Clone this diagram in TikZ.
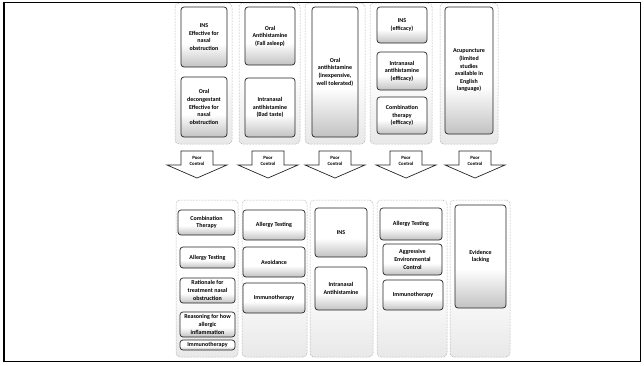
\documentclass[tikz,border=0pt]{standalone}
\usepackage{fontspec}
\setmainfont{Carlito}

% fade from light grey at the bottom of a box to white in its upper part
\pgfdeclareverticalshading{boxfade}{100bp}{color(0bp)=(black!24); color(25bp)=(black!24); color(44bp)=(white); color(100bp)=(white)}
\pgfdeclareverticalshading{panelfade}{100bp}{color(0bp)=(black!9); color(25bp)=(black!9); color(50bp)=(white); color(100bp)=(white)}

\tikzset{
  panel/.style={draw=black!45, densely dotted, line width=0.5pt, rounded corners=4pt,
                shade, shading=panelfade, inner sep=0pt},
  card/.style={draw=black!85, line width=0.7pt, rounded corners=3pt, shade, shading=boxfade,
               align=center, font=\bfseries\fontsize{6}{7.6}\selectfont, inner sep=0.5pt},
  arrowbody/.style={draw=black!85, line width=0.7pt, fill=white, line join=miter},
  arrowtext/.style={align=center, font=\bfseries\fontsize{4.8}{6}\selectfont, inner sep=0pt},
  frame/.style={draw=black, line width=1.8pt}
}

\begin{document}
\begin{tikzpicture}[x=1pt, y=-1pt]
\useasboundingbox (0,0) rectangle (644,365);
\draw[frame] (4,2.5) rectangle (640.5,361.5);

% column panels, upper row
\node[panel, minimum width=57, minimum height=141] (p1) at (203.5,73.5) {};
\node[panel, minimum width=61, minimum height=141] (p2) at (269.5,73.5) {};
\node[panel, minimum width=60, minimum height=141] (p3) at (335,73.5) {};
\node[panel, minimum width=62, minimum height=141] (p4) at (401,73.5) {};
\node[panel, minimum width=58, minimum height=141] (p5) at (469,73.5) {};

% column panels, lower row
\node[panel, minimum width=62, minimum height=157] (q1) at (207,278.5) {};
\node[panel, minimum width=65, minimum height=157] (q2) at (274.5,278.5) {};
\node[panel, minimum width=63, minimum height=157] (q3) at (341.5,278.5) {};
\node[panel, minimum width=70, minimum height=157] (q4) at (412,278.5) {};
\node[panel, minimum width=60, minimum height=157] (q5) at (480,278.5) {};

% first-line choices
\node[card, minimum width=46, minimum height=60] (a1) at (204,37) {INS\\Effective for\\nasal\\obstruction};
\node[card, minimum width=46, minimum height=60] (a2) at (204,107) {Oral\\decongestant\\Effective for\\nasal\\obstruction};
\node[card, minimum width=50, minimum height=58] (b1) at (270,36) {Oral\\Antihistamine\\(Fall asleep)};
\node[card, minimum width=50, minimum height=59] (b2) at (270,107.5) {Intranasal\\antihistamine\\(Bad taste)};
\node[card, minimum width=46, minimum height=130] (c1) at (335,72) {Oral\\antihistamine\\(inexpensive,\\well tolerated)};
\node[card, minimum width=50, minimum height=36] (d1) at (402,25) {INS\\(efficacy)};
\node[card, minimum width=50, minimum height=38] (d2) at (402,71) {Intranasal\\antihistamine\\(efficacy)};
\node[card, minimum width=50, minimum height=37] (d3) at (402,115.5) {Combination\\therapy\\(efficacy)};
\node[card, minimum width=48, minimum height=127] (e1) at (469,70.5) {Acupuncture\\(limited\\studies\\available in\\English\\language)};

% "Poor Control" block arrows
\foreach \i/\cx in {1/197, 2/268, 3/335, 4/406, 5/475}{
  \draw[arrowbody] (\cx-16,151) -- (\cx+16,151) -- (\cx+16,165) -- (\cx+30,165)
        -- (\cx,178) -- (\cx-30,165) -- (\cx-16,165) -- cycle;
  \node[arrowtext] (r\i) at (\cx,161) {Poor\\Control};
}

% next steps
\node[card, minimum width=57, minimum height=25] (f1) at (206.5,222.5) {Combination\\Therapy};
\node[card, minimum width=55, minimum height=21] (f2) at (207.5,257.5) {Allergy Testing};
\node[card, minimum width=55, minimum height=25] (f3) at (207.5,290.5) {Rationale for\\treatment nasal\\obstruction};
\node[card, minimum width=55, minimum height=25] (f4) at (207.5,324.5) {Reasoning for how\\allergic\\inflammation};
\node[card, minimum width=55, minimum height=10] (f5) at (207.5,345) {Immunotherapy};

\node[card, minimum width=62, minimum height=30] (g1) at (274,225) {Allergy Testing};
\node[card, minimum width=62, minimum height=30] (g2) at (274,262) {Avoidance};
\node[card, minimum width=62, minimum height=30] (g3) at (274,298) {Immunotherapy};

\node[card, minimum width=52, minimum height=49] (h1) at (341,232.5) {INS};
\node[card, minimum width=52, minimum height=43] (h2) at (341,288.5) {Intranasal\\Antihistamine};

\node[card, minimum width=62, minimum height=32] (i1) at (411,224) {Allergy Testing};
\node[card, minimum width=59, minimum height=31] (i2) at (412.5,259.5) {Aggressive\\Environmental\\Control};
\node[card, minimum width=60, minimum height=30] (i3) at (413,295) {Immunotherapy};

\node[card, minimum width=51, minimum height=103] (j1) at (480.5,256.5) {Evidence\\lacking};
\end{tikzpicture}
\end{document}
